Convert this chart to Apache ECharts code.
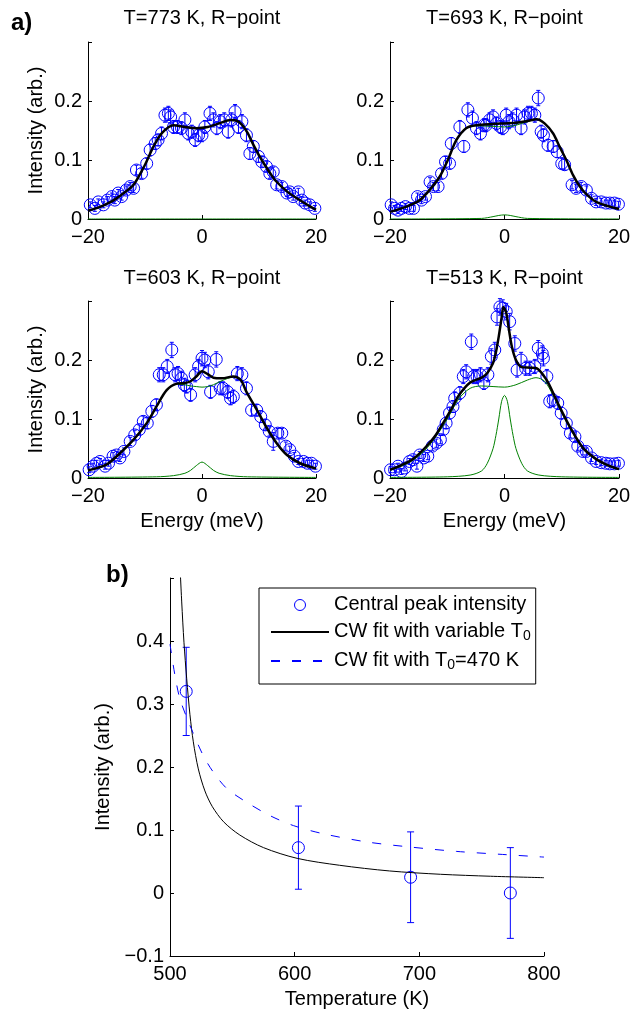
<!DOCTYPE html>
<html>
<head>
<meta charset="utf-8">
<title>Central peak</title>
<script src="https://cdn.jsdelivr.net/npm/echarts@6/dist/echarts.min.js"></script>
<style>
  html, body { margin: 0; padding: 0; background: #fff; }
  #chart { width: 639px; height: 1010px; }
</style>
</head>
<body>
<div id="chart"></div>
<script>
// ---- data ----
const panelTitles = ['T=773 K, R\u2212point', 'T=693 K, R\u2212point', 'T=603 K, R\u2212point', 'T=513 K, R\u2212point'];

// [energy (meV), intensity, error]
const pts773 = [[-19.6,0.024,.005],[-18.8,0.018,.005],[-18.2,0.029,.005],[-17.3,0.024,.005],[-16.6,0.032,.006],[-15.8,0.038,.006],[-15.3,0.032,.006],[-14.7,0.044,.006],[-14.1,0.038,.006],[-13.3,0.049,.007],[-12.6,0.055,.007],[-12.0,0.052,.007],[-11.5,0.083,.008],[-10.6,0.077,.008],[-9.7,0.094,.009],[-9.1,0.117,.01],[-8.2,0.128,.01],[-7.7,0.134,.01],[-7.1,0.145,.011],[-6.5,0.176,.012],[-5.9,0.179,.012],[-5.5,0.173,.012],[-5.0,0.156,.011],[-4.3,0.156,.011],[-3.6,0.154,.011],[-3.0,0.168,.012],[-2.4,0.145,.011],[-1.8,0.148,.011],[-1.2,0.134,.011],[-0.6,0.142,.011],[0.0,0.142,.011],[0.5,0.156,.011],[1.4,0.179,.012],[2.0,0.168,.012],[2.6,0.154,.011],[3.2,0.165,.012],[3.9,0.168,.012],[4.6,0.148,.011],[5.2,0.168,.012],[5.8,0.182,.012],[6.4,0.156,.011],[7.0,0.165,.012],[7.8,0.142,.011],[8.4,0.111,.01],[9.0,0.123,.01],[9.9,0.106,.01],[10.5,0.097,.009],[11.3,0.089,.009],[11.9,0.077,.008],[12.5,0.08,.008],[13.1,0.058,.007],[14.0,0.055,.007],[14.9,0.044,.006],[15.4,0.046,.006],[16.0,0.038,.006],[16.9,0.046,.006],[17.5,0.032,.006],[18.1,0.027,.005],[18.9,0.024,.005],[19.8,0.018,.005]];
const pts693 = [[-19.8,0.024,.005],[-19.2,0.018,.005],[-18.6,0.015,.005],[-18.0,0.018,.005],[-17.3,0.021,.005],[-16.6,0.018,.005],[-15.9,0.018,.005],[-15.2,0.038,.006],[-14.5,0.032,.006],[-13.8,0.038,.006],[-13.0,0.063,.007],[-12.4,0.055,.007],[-11.6,0.055,.007],[-11.0,0.077,.008],[-10.3,0.097,.009],[-9.6,0.094,.009],[-9.3,0.128,.01],[-7.8,0.156,.011],[-7.1,0.123,.01],[-6.4,0.185,.012],[-5.6,0.171,.012],[-4.9,0.154,.011],[-4.2,0.145,.011],[-3.6,0.159,.011],[-3.2,0.159,.011],[-2.6,0.168,.012],[-2.0,0.173,.012],[-1.4,0.162,.011],[-0.7,0.156,.011],[-0.3,0.154,.011],[0.3,0.176,.012],[0.8,0.165,.012],[1.4,0.168,.012],[2.1,0.176,.012],[2.9,0.154,.011],[3.5,0.173,.012],[4.1,0.179,.012],[4.7,0.179,.012],[5.3,0.176,.012],[5.9,0.205,.013],[6.4,0.148,.011],[6.8,0.142,.011],[7.6,0.125,.01],[8.5,0.123,.01],[9.2,0.114,.01],[10.0,0.094,.009],[10.5,0.092,.009],[11.8,0.058,.007],[12.5,0.052,.007],[13.4,0.055,.007],[14.3,0.049,.007],[15.2,0.035,.006],[16.0,0.029,.006],[16.9,0.029,.006],[17.7,0.027,.005],[18.4,0.027,.005],[19.2,0.027,.005],[19.9,0.025,.005]];
const pts603 = [[-19.8,0.014,.005],[-19.1,0.02,.005],[-18.5,0.025,.005],[-17.9,0.028,.005],[-17.0,0.02,.005],[-16.4,0.025,.005],[-15.6,0.037,.006],[-15.0,0.039,.006],[-14.4,0.034,.006],[-13.7,0.045,.006],[-12.6,0.062,.007],[-11.8,0.073,.008],[-11.0,0.082,.008],[-10.3,0.096,.009],[-9.6,0.093,.009],[-8.8,0.113,.01],[-8.0,0.124,.01],[-7.5,0.175,.012],[-6.8,0.175,.012],[-6.1,0.189,.012],[-5.3,0.217,.013],[-4.7,0.175,.012],[-4.2,0.177,.012],[-3.6,0.169,.012],[-3.1,0.158,.011],[-2.7,0.155,.011],[-2.0,0.141,.011],[-1.2,0.175,.012],[-0.6,0.189,.012],[0.0,0.203,.013],[0.5,0.2,.013],[1.1,0.18,.012],[1.5,0.146,.011],[2.5,0.201,.013],[3.2,0.152,.011],[3.7,0.152,.011],[4.5,0.146,.011],[5.0,0.135,.011],[5.5,0.138,.011],[6.2,0.177,.012],[7.0,0.175,.012],[7.8,0.152,.011],[8.7,0.115,.01],[9.6,0.115,.01],[10.3,0.104,.01],[11.1,0.09,.009],[11.8,0.079,.008],[12.5,0.062,.015],[13.3,0.076,.008],[14.0,0.076,.008],[14.7,0.054,.007],[15.4,0.048,.006],[16.2,0.037,.006],[16.9,0.028,.005],[17.8,0.028,.005],[18.5,0.025,.005],[19.2,0.025,.005],[19.9,0.02,.005]];
const pts513 = [[-19.9,0.014,.005],[-19.2,0.014,.005],[-18.6,0.02,.005],[-18.0,0.011,.005],[-17.4,0.017,.005],[-16.6,0.028,.005],[-16.0,0.031,.006],[-15.3,0.02,.005],[-14.8,0.039,.006],[-14.1,0.034,.006],[-13.4,0.037,.006],[-12.6,0.054,.007],[-11.9,0.059,.007],[-11.2,0.065,.007],[-10.7,0.082,.008],[-10.2,0.093,.009],[-9.6,0.11,.01],[-9.0,0.121,.01],[-8.7,0.135,.011],[-7.8,0.144,.011],[-7.2,0.172,.012],[-6.7,0.18,.012],[-5.8,0.231,.013],[-5.4,0.172,.012],[-4.8,0.172,.012],[-4.2,0.175,.012],[-3.6,0.161,.011],[-2.9,0.175,.012],[-2.3,0.206,.013],[-1.7,0.217,.013],[-1.3,0.273,.014],[-0.8,0.29,.014],[-0.3,0.288,.014],[0.3,0.282,.014],[0.9,0.265,.014],[1.8,0.228,.013],[2.2,0.183,.012],[2.9,0.2,.013],[3.7,0.186,.012],[4.4,0.186,.012],[5.3,0.189,.012],[5.9,0.22,.013],[6.6,0.211,.013],[6.8,0.203,.013],[7.4,0.172,.012],[7.9,0.13,.011],[8.5,0.132,.011],[9.3,0.127,.011],[9.9,0.11,.01],[10.8,0.093,.009],[11.5,0.076,.008],[12.3,0.07,.008],[12.8,0.054,.007],[13.7,0.045,.006],[14.3,0.045,.006],[15.2,0.034,.006],[16.0,0.028,.005],[16.9,0.026,.005],[17.7,0.025,.005],[18.4,0.024,.005],[19.2,0.024,.005],[19.9,0.025,.005]];

// total fit (black)
const fit773 = [[-20,0.014],[-18,0.02],[-16,0.029],[-15,0.035],[-14,0.042],[-12,0.058],[-10,0.092],[-8.5,0.123],[-7,0.146],[-5,0.159],[-3,0.156],[-1,0.154],[1,0.156],[3,0.162],[5,0.168],[6,0.167],[7,0.16],[8,0.146],[9,0.126],[10,0.108],[11,0.092],[12,0.077],[13,0.064],[15,0.046],[17,0.033],[19,0.021],[20,0.016]];
const fit693 = [[-20,0.012],[-17.1,0.021],[-14.8,0.032],[-13.1,0.049],[-11.3,0.072],[-9.9,0.1],[-8.4,0.134],[-6.7,0.154],[-4.9,0.159],[-2,0.161],[0,0.162],[2,0.163],[4,0.166],[5.6,0.169],[7,0.162],[8.5,0.145],[9.6,0.123],[10.8,0.1],[12,0.074],[13.1,0.056],[14.3,0.042],[16,0.029],[18.4,0.021],[20,0.017]];
const fit603 = [[-20,0.013],[-19.1,0.015],[-16.7,0.023],[-14.4,0.042],[-12,0.065],[-9.7,0.093],[-8,0.121],[-6.2,0.149],[-4.4,0.16],[-3,0.161],[-2,0.164],[-1,0.172],[0,0.181],[1,0.176],[2,0.17],[3.5,0.169],[5.5,0.172],[6.8,0.166],[7.8,0.146],[9.6,0.116],[11.3,0.086],[13.1,0.059],[14.9,0.039],[17.2,0.025],[20,0.016]];
const fit513 = [[-20,0.014],[-18,0.022],[-16,0.032],[-14,0.05],[-12,0.073],[-10,0.105],[-9,0.122],[-8,0.14],[-6,0.162],[-4,0.17],[-3,0.178],[-2,0.195],[-1.5,0.213],[-1,0.24],[-0.5,0.272],[-0.2,0.29],[0.3,0.28],[0.8,0.25],[1.3,0.222],[2,0.2],[3,0.188],[4.5,0.187],[5.6,0.186],[7.3,0.167],[8.5,0.144],[9.6,0.121],[11.4,0.087],[13.7,0.051],[16,0.032],[18,0.022],[20,0.015]];

// broad component (green)
const broad693 = [[-20,0.012],[-17.1,0.021],[-14.8,0.032],[-13.1,0.049],[-11.3,0.072],[-9.9,0.1],[-8.4,0.134],[-6.7,0.154],[-4.9,0.158],[-2,0.157],[0,0.156],[2,0.159],[4,0.165],[5.6,0.169],[7,0.162],[8.5,0.145],[9.6,0.123],[10.8,0.1],[12,0.074],[13.1,0.056],[14.3,0.042],[16,0.029],[18.4,0.021],[20,0.017]];
const broad603 = [[-20,0.013],[-19.1,0.015],[-16.7,0.023],[-14.4,0.042],[-12,0.065],[-9.7,0.093],[-8,0.121],[-6.2,0.149],[-4.4,0.159],[-3,0.158],[-2,0.156],[-1,0.155],[0,0.154],[1,0.155],[2,0.158],[3.5,0.165],[5.5,0.171],[6.8,0.166],[7.8,0.146],[9.6,0.116],[11.3,0.086],[13.1,0.059],[14.9,0.039],[17.2,0.025],[20,0.016]];
const broad513 = [[-20,0.013],[-18,0.02],[-16,0.03],[-14,0.046],[-12,0.07],[-10,0.1],[-8,0.134],[-6,0.152],[-4,0.156],[-2,0.155],[0,0.154],[2,0.158],[4,0.166],[5.5,0.17],[7,0.164],[8.5,0.14],[9.6,0.118],[11.4,0.085],[13.7,0.05],[16,0.031],[18,0.021],[20,0.014]];

// central peak component (green)
const peak773 = [[-20,0],[0,0],[20,0]];
const peak693 = [[-20,0],[-4,0.001],[-2,0.004],[-1,0.006],[0,0.007],[1,0.006],[2,0.004],[4,0.001],[20,0]];
const peak603 = [[-20,0.001],[-8,0.002],[-5,0.004],[-3,0.008],[-2,0.013],[-1,0.021],[0,0.027],[1,0.021],[2,0.013],[3,0.008],[5,0.004],[8,0.002],[20,0.001]];
const peak513 = [[-20,0.001],[-10,0.002],[-6,0.005],[-4,0.012],[-3,0.025],[-2,0.05],[-1.5,0.072],[-1,0.1],[-0.5,0.13],[0,0.14],[0.5,0.13],[1,0.1],[1.5,0.072],[2,0.05],[3,0.025],[4,0.012],[6,0.005],[10,0.002],[20,0.001]];

// panel b
const tempK = [513, 603, 693, 773];
const peakInt = [0.32, 0.072, 0.025, 0.0];
const peakErr = [0.07, 0.066, 0.072, 0.072];
const cwFree = [[507.5,0.54],[509.4,0.462],[511.2,0.398],[513.4,0.34],[516,0.283],[518.7,0.24],[522.7,0.197],[528,0.162],[534,0.137],[543,0.113],[556,0.092],[575,0.072],[602,0.055],[636,0.044],[676,0.035],[717,0.0297],[757,0.0266],[800,0.0243]];
const cwFixed = [[500,0.395],[504,0.345],[508,0.308],[516,0.266],[526.7,0.218],[534.7,0.192],[545.5,0.166],[561.5,0.144],[580,0.123],[599,0.107],[623,0.094],[658,0.081],[692.5,0.073],[730,0.066],[770,0.0608],[800,0.057]];

const legendNames = ['Central peak intensity', 'CW fit with variable T0', 'CW fit with T0=470 K'];

// ---- chart ----
const FONT = 'Liberation Sans, Arial, Helvetica, sans-serif';
const BLUE = '#0000ff';
const GREEN = '#008000';
const NOFILL = 'rgba(0,0,0,0)';

function fmt(v) {
    return String(+v.toFixed(2)).replace('-', '\u2212');
}

const grids = [
    { left: 88, top: 42, width: 228, height: 177 },
    { left: 390, top: 42, width: 229, height: 177 },
    { left: 88, top: 301, width: 228, height: 177 },
    { left: 390, top: 301, width: 229, height: 177 },
    { left: 170, top: 578, width: 374, height: 380 }
];

function axisBase() {
    return {
        axisLine: { onZero: false, lineStyle: { color: '#000', width: 1 } },
        axisTick: { inside: true, length: 4, lineStyle: { color: '#000' } },
        splitLine: { show: false },
        nameTextStyle: { fontFamily: FONT, fontSize: 20, color: '#000' }
    };
}

const xAxes = [];
const yAxes = [];
for (let i = 0; i < 4; i++) {
    xAxes.push(Object.assign(axisBase(), {
        gridIndex: i, type: 'value', min: -20, max: 20, interval: 20,
        axisLabel: { margin: 8, fontFamily: FONT, fontSize: 20, color: '#000', formatter: fmt },
        name: i >= 2 ? 'Energy (meV)' : '', nameLocation: 'middle', nameGap: 33
    }));
    yAxes.push(Object.assign(axisBase(), {
        gridIndex: i, type: 'value', min: 0, max: 0.3, interval: 0.1,
        axisLabel: { margin: 6, fontFamily: FONT, fontSize: 20, color: '#000',
            formatter: v => v > 0.25 ? '' : fmt(v) },
        name: i % 2 === 0 ? 'Intensity (arb.)' : '', nameLocation: 'middle', nameGap: 42
    }));
}
xAxes.push(Object.assign(axisBase(), {
    gridIndex: 4, type: 'value', min: 500, max: 800, interval: 100,
    axisLabel: { margin: 8, fontFamily: FONT, fontSize: 20, color: '#000', formatter: fmt },
    name: 'Temperature (K)', nameLocation: 'middle', nameGap: 33
}));
yAxes.push(Object.assign(axisBase(), {
    gridIndex: 4, type: 'value', min: -0.1, max: 0.5, interval: 0.1,
    axisLabel: { margin: 6, fontFamily: FONT, fontSize: 20, color: '#000',
        formatter: v => v > 0.45 ? '' : fmt(v) },
    name: 'Intensity (arb.)', nameLocation: 'middle', nameGap: 49
}));

function errorBars(data, gi, cap) {
    return {
        type: 'custom', xAxisIndex: gi, yAxisIndex: gi, data: data, silent: true,
        renderItem: function (params, api) {
            const x = api.value(0), y = api.value(1), e = api.value(2);
            const hi = api.coord([x, y + e]);
            const lo = api.coord([x, y - e]);
            const st = { stroke: BLUE, lineWidth: 1 };
            return {
                type: 'group',
                children: [
                    { type: 'line', shape: { x1: hi[0], y1: hi[1], x2: lo[0], y2: lo[1] }, style: st },
                    { type: 'line', shape: { x1: hi[0] - cap, y1: hi[1], x2: hi[0] + cap, y2: hi[1] }, style: st },
                    { type: 'line', shape: { x1: lo[0] - cap, y1: lo[1], x2: lo[0] + cap, y2: lo[1] }, style: st }
                ]
            };
        }
    };
}

function curve(data, gi, color, width, name, dash) {
    return {
        type: 'line', name: name, xAxisIndex: gi, yAxisIndex: gi, data: data,
        symbol: 'none', smooth: 0.3, silent: true,
        lineStyle: { color: color, width: width, type: dash || 'solid' },
        itemStyle: { color: NOFILL, borderColor: NOFILL, borderWidth: 0 }
    };
}

function circles(data, gi, size, name) {
    return {
        type: 'scatter', name: name, xAxisIndex: gi, yAxisIndex: gi, data: data,
        symbol: 'circle', symbolSize: size, silent: true,
        itemStyle: { color: NOFILL, borderColor: BLUE, borderWidth: 1, opacity: 1 }
    };
}

const panels = [
    { pts: pts773, fit: fit773, broad: null, peak: peak773 },
    { pts: pts693, fit: fit693, broad: broad693, peak: peak693 },
    { pts: pts603, fit: fit603, broad: broad603, peak: peak603 },
    { pts: pts513, fit: fit513, broad: broad513, peak: peak513 }
];

const series = [];
panels.forEach((p, i) => {
    if (p.broad) series.push(curve(p.broad, i, GREEN, 1));
    series.push(curve(p.peak, i, GREEN, 1));
    series.push(errorBars(p.pts, i, 2));
    series.push(circles(p.pts.map(d => [d[0], d[1]]), i, 12));
    series.push(curve(p.fit, i, '#000', 2.5));
});

const bData = tempK.map((t, k) => [t, peakInt[k], peakErr[k]]);
series.push(errorBars(bData, 4, 3.5));
series.push(circles(bData.map(d => [d[0], d[1]]), 4, 12, legendNames[0]));
series.push(curve(cwFree, 4, '#000', 1, legendNames[1]));
series.push(curve(cwFixed, 4, BLUE, 1, legendNames[2], [9, 12]));

const titleStyle = { fontFamily: FONT, fontSize: 20, fontWeight: 'normal', color: '#000' };
const titles = [
    { text: 'a)', left: 11, top: 11, padding: 0, textStyle: Object.assign({}, titleStyle, { fontSize: 24, fontWeight: 'bold' }) },
    { text: 'b)', left: 106, top: 563, padding: 0, textStyle: Object.assign({}, titleStyle, { fontSize: 24, fontWeight: 'bold' }) }
];
panelTitles.forEach((t, i) => {
    titles.push({
        text: t, left: grids[i].left + grids[i].width / 2, textAlign: 'center',
        top: i < 2 ? 8 : 268, padding: 0, textStyle: titleStyle
    });
});

const hiddenMark = { color: NOFILL, borderColor: NOFILL, borderWidth: 0 };

const chart = echarts.init(document.getElementById('chart'), null, { renderer: 'canvas' });
chart.setOption({
    animation: false,
    backgroundColor: '#fff',
    title: titles,
    grid: grids,
    xAxis: xAxes,
    yAxis: yAxes,
    legend: {
        data: [
            { name: legendNames[0], itemStyle: { color: NOFILL, borderColor: BLUE, borderWidth: 1 } },
            { name: legendNames[1], itemStyle: hiddenMark },
            { name: legendNames[2], itemStyle: hiddenMark }
        ],
        orient: 'vertical', left: 259, top: 588,
        itemWidth: 58, itemHeight: 11, itemGap: 1,
        padding: [6, 5, 12, 11],
        borderColor: '#000', borderWidth: 1, backgroundColor: '#fff',
        selectedMode: false,
        formatter: function (name) {
            const k = name.indexOf('T0');
            if (k < 0) return '{m|' + name + '}';
            return '{m|' + name.slice(0, k + 1) + '}{s|0}' + (name.length > k + 2 ? '{m|' + name.slice(k + 2) + '}' : '');
        },
        textStyle: {
            fontFamily: FONT, fontSize: 20, color: '#000',
            rich: {
                m: { fontFamily: FONT, fontSize: 20, lineHeight: 22, verticalAlign: 'top', color: '#000' },
                s: { fontFamily: FONT, fontSize: 14, lineHeight: 16, verticalAlign: 'bottom', padding: [14, 0, 0, 0], color: '#000' }
            }
        }
    },
    series: series
});
</script>
</body>
</html>
